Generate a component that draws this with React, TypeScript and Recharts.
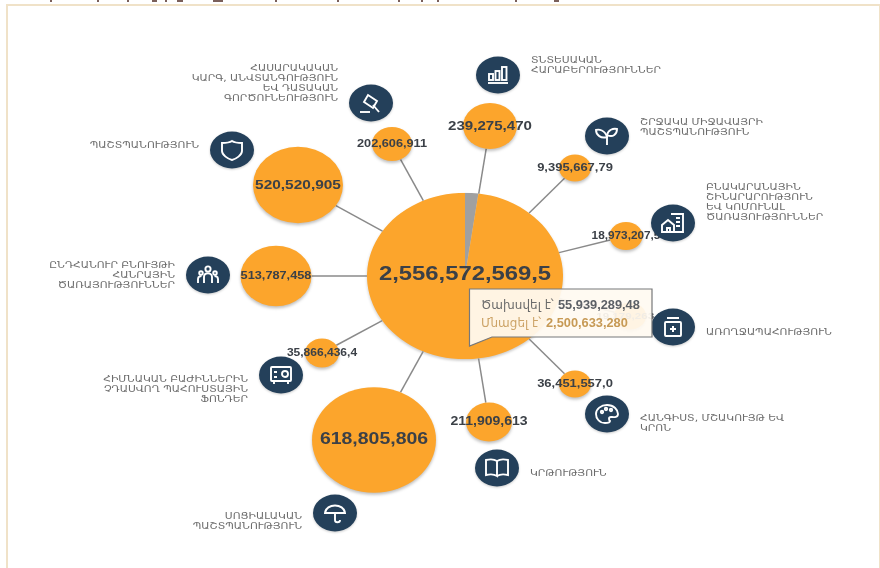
import React from 'react';
import { PieChart, Pie, Cell, ScatterChart, Scatter, XAxis, YAxis, ZAxis, ReferenceLine } from 'recharts';

// budget totals shown in the hub and the tooltip
const hubLabel = '2,556,572,569,5';
const spentLabel = '55,939,289,48';
const leftLabel = '2,500,633,280';
const hubSlices = [
  { name: 'Ծախսվել է՝', value: 55939289 },
  { name: 'Մնացել է՝', value: 2500633280 },
];
const SLICE_COLORS = ['#a0a0a0', '#fca52c'];

// bubbles round the hub (values are cut off in the source picture, so they stay strings)
const bubbleLabels = [
  '202,606,911', '239,275,470', '9,395,667,79', '18,973,207,5', '19,179,263,8', '36,451,557,0',
  '211,909,613', '618,805,806', '35,866,436,4', '513,787,458', '520,520,905',
];
const bubbleX = [392, 490, 575, 626, 630, 575, 489, 374, 322, 276, 298];
const bubbleY = [144, 126, 168, 236, 316, 384, 422, 440, 353, 276, 185];
const bubbleArea = [1257, 2290, 804, 855, 804, 804, 1662, 12076, 908, 3959, 6362];
const labelFontPx = [10.8, 12.8, 11, 10, 9.8, 11, 11.9, 16.5, 10.2, 10.8, 13.1];

// sectors, each with its icon
const iconNames = ['gavel', 'bars', 'sprout', 'house', 'jar', 'palette', 'book', 'umbrella', 'safe', 'people', 'shield'];
const sectorLines = [
  ['ՀԱՍԱՐԱԿԱԿԱՆ', 'ԿԱՐԳ, ԱՆՎՏԱՆԳՈՒԹՅՈՒՆ', 'ԵՎ ԴԱՏԱԿԱՆ', 'ԳՈՐԾՈՒՆԵՈՒԹՅՈՒՆ'],
  ['ՏՆՏԵՍԱԿԱՆ', 'ՀԱՐԱԲԵՐՈՒԹՅՈՒՆՆԵՐ'],
  ['ՇՐՋԱԿԱ ՄԻՋԱՎԱՅՐԻ', 'ՊԱՇՏՊԱՆՈՒԹՅՈՒՆ'],
  ['ԲՆԱԿԱՐԱՆԱՅԻՆ', 'ՇԻՆԱՐԱՐՈՒԹՅՈՒՆ', 'ԵՎ ԿՈՄՈՒՆԱԼ', 'ԾԱՌԱՅՈՒԹՅՈՒՆՆԵՐ'],
  ['ԱՌՈՂՋԱՊԱՀՈՒԹՅՈՒՆ'],
  ['ՀԱՆԳԻՍՏ, ՄՇԱԿՈՒՅԹ ԵՎ', 'ԿՐՈՆ'],
  ['ԿՐԹՈՒԹՅՈՒՆ'],
  ['ՍՈՑԻԱԼԱԿԱՆ', 'ՊԱՇՏՊԱՆՈՒԹՅՈՒՆ'],
  ['ՀԻՄՆԱԿԱՆ ԲԱԺԻՆՆԵՐԻՆ', 'ՉԴԱՍՎՈՂ ՊԱՀՈՒՍՏԱՅԻՆ', 'ՖՈՆԴԵՐ'],
  ['ԸՆԴՀԱՆՈՒՐ ԲՆՈՒՅԹԻ', 'ՀԱՆՐԱՅԻՆ', 'ԾԱՌԱՅՈՒԹՅՈՒՆՆԵՐ'],
  ['ՊԱՇՏՊԱՆՈՒԹՅՈՒՆ'],
];
const iconX = [371, 498, 607, 673, 673, 607, 497, 335, 281, 208, 232];
const iconY = [103, 75, 136, 223, 327, 414, 468, 513, 375, 275, 150];
const textSide = [-1, 1, 1, 1, 1, 1, 1, -1, -1, -1, -1];
const textShift = [-20, -10, -9, -21, 5, 9, 5, 8, 14, 0, -5];

// cut-off title at the very top of the screenshot: [left, width]
const titleStubs = [[50, 2], [97, 2], [127, 2], [152, 5], [165, 2], [177, 6], [213, 10], [275, 2], [337, 2], [398, 2], [421, 2], [437, 2], [515, 2], [554, 5]];

const WIDTH = 880;
const HEIGHT = 568;
const HUB_X = 465;
const HUB_Y = 276;
const HUB_RX = 98;
const SQUASH = 0.85; // source screenshot is stretched sideways

const bubbles = bubbleLabels.map((label, i) => ({ label, x: bubbleX[i], y: bubbleY[i], z: bubbleArea[i], font: labelFontPx[i] }));
const icons = iconNames.map((name, i) => ({ name, x: iconX[i], y: iconY[i], lines: sectorLines[i], side: textSide[i], shift: textShift[i] }));

// where the spoke towards (tx, ty) leaves an ellipse of radius rx centred at (cx, cy)
const edgePoint = (cx: number, cy: number, rx: number, tx: number, ty: number) => {
  const dx = tx - cx;
  const dy = ty - cy;
  const k = 1 / Math.sqrt((dx / rx) ** 2 + (dy / (rx * SQUASH)) ** 2);
  return { x: cx + dx * k, y: cy + dy * k };
};

const BubbleShape = (props: any) => {
  const { cx, cy, width, payload } = props;
  const rx = width / 2;
  return (
    <g>
      <ellipse cx={cx} cy={cy} rx={rx} ry={rx * SQUASH} fill="#fca52c" style={{ filter: 'drop-shadow(0 2px 1.5px rgba(0,0,0,0.25))' }} />
      <text
        transform={`translate(${cx} ${cy - 1}) scale(1.18 1)`}
        textAnchor="middle"
        dominantBaseline="central"
        fontFamily="'Liberation Sans', Arial, sans-serif"
        fontWeight="bold"
        fontSize={payload.font}
        fill="#3b4047"
      >
        {payload.label}
      </text>
    </g>
  );
};

const HubLabelShape = (props: any) => (
  <text
    transform={`translate(${props.cx} ${props.cy - 3}) scale(1.18 1)`}
    textAnchor="middle"
    dominantBaseline="central"
    fontFamily="'Liberation Sans', Arial, sans-serif"
    fontWeight="bold"
    fontSize={20.2}
    fill="#3b4047"
  >
    {hubLabel}
  </text>
);

const glyphs: Record<string, React.ReactNode> = {
  gavel: (
    <>
      <path d="M-4 -9 L5 -3 L1 4 L-8 -2 Z" transform="translate(1 1)" />
      <path d="M2 2 L8 9" />
      <path d="M-11 9 H-1" />
    </>
  ),
  bars: (
    <>
      <rect x="-9" y="-1" width="4" height="6" />
      <rect x="-2.5" y="-4" width="4" height="9" />
      <rect x="4" y="-8" width="4.5" height="13" />
      <path d="M-10 8 H10" />
    </>
  ),
  sprout: (
    <>
      <path d="M0 9 V0" />
      <path d="M0 1 C-2 -6 -8 -7 -11 -6 C-11 -1 -6 3 0 1 Z" />
      <path d="M0 -1 C1 -6 6 -8 10 -7 C10 -2 6 2 0 -1 Z" />
    </>
  ),
  house: (
    <>
      <path d="M-2 -9 H10 V9 H-2" />
      <path d="M-11 9 V2 L-5 -3 L1 2 V9 Z" />
      <path d="M3 -5 H7 M3 -1 H7 M3 3 H7 M-6 9 V5 H-3 V9" />
    </>
  ),
  jar: (
    <>
      <path d="M-6 -9 H6 M-5 -5 H5" />
      <rect x="-8" y="-5" width="16" height="14" rx="1" />
      <path d="M-3 2 H3 M0 -1 V5" strokeWidth="2" />
    </>
  ),
  palette: (
    <>
      <path d="M0 -9 C7 -9 11 -4 11 0 C11 4 6 3 4 3 C1 3 2 6 3 7 C3 9 0 9 -2 9 C-8 9 -11 4 -11 0 C-11 -5 -6 -9 0 -9 Z" />
      <circle cx="-5" cy="-2" r="1.2" />
      <circle cx="-1" cy="-5" r="1.2" />
      <circle cx="4" cy="-4" r="1.2" />
    </>
  ),
  book: (
    <>
      <path d="M0 -7 C-3 -9 -7 -9 -11 -8 V7 C-7 6 -3 6 0 8 Z" />
      <path d="M0 -7 C3 -9 7 -9 11 -8 V7 C7 6 3 6 0 8" />
    </>
  ),
  umbrella: (
    <>
      <path d="M-10 0 C-9 -10 9 -10 10 0 Z" />
      <path d="M0 0 V7 C0 10 5 10 5 7" />
    </>
  ),
  safe: (
    <>
      <rect x="-10" y="-8" width="20" height="14" rx="1" />
      <circle cx="4" cy="-1" r="3" />
      <path d="M-7 -3 H-4 M-7 2 H-4 M-7 6 V9 M7 6 V9" />
    </>
  ),
  people: (
    <>
      <circle cx="0" cy="-6" r="2.6" />
      <circle cx="-7" cy="-2" r="1.8" />
      <circle cx="7" cy="-2" r="1.8" />
      <path d="M-4 8 V2 C-4 -3 4 -3 4 2 V8" />
      <path d="M-10 8 V4 C-10 1 -7 1 -6.5 1 M10 8 V4 C10 1 7 1 6.5 1" />
    </>
  ),
  shield: <path d="M0 -9 C3 -7 7 -7 10 -7 V1 C10 5 4 9 0 10 C-4 9 -10 5 -10 1 V-7 C-7 -7 -3 -7 0 -9 Z" />,
};

const IconShape = (props: any) => {
  const { cx, cy, payload } = props;
  const firstLine = payload.shift - ((payload.lines.length - 1) * 10.3) / 2;
  return (
    <g>
      <ellipse cx={cx} cy={cy} rx={22} ry={18.5} fill="#24405a" style={{ filter: 'drop-shadow(0 1px 1px rgba(0,0,0,0.2))' }} />
      <g transform={`translate(${cx} ${cy})`} fill="none" stroke="#fff" strokeWidth={1.9}>
        {glyphs[payload.name]}
      </g>
      <text
        transform={`translate(${cx + payload.side * 33} ${cy}) scale(1.25 1)`}
        textAnchor={payload.side < 0 ? 'end' : 'start'}
        fontFamily="'DejaVu Sans', sans-serif"
        fontSize={8.6}
        fill="#6c6c6c"
      >
        {payload.lines.map((line: string, i: number) => (
          <tspan key={line} x={0} y={firstLine + i * 10.3 + 3}>
            {line}
          </tspan>
        ))}
      </text>
    </g>
  );
};

const layer: React.CSSProperties = { position: 'absolute', left: 0, top: 0 };

export default function App() {
  return (
    <div style={{ ...layer, width: WIDTH, height: HEIGHT, overflow: 'hidden', background: '#fff', filter: 'blur(0.5px)' }}>
      {titleStubs.map(([left, w]) => (
        <div key={left} style={{ position: 'absolute', left, top: 0, width: w, height: 2, background: '#7a5f5a' }} />
      ))}
      <div style={{ position: 'absolute', left: 6, top: 4, width: 871, height: 620, border: '2px solid #f0e2c8' }} />

      <div
        style={{
          position: 'absolute',
          left: HUB_X - HUB_RX,
          top: HUB_Y - HUB_RX,
          transform: `scaleY(${SQUASH})`,
          filter: 'drop-shadow(0 2px 1.5px rgba(0,0,0,0.2))',
        }}
      >
        <PieChart width={HUB_RX * 2} height={HUB_RX * 2} margin={{ top: 0, right: 0, bottom: 0, left: 0 }}>
          <Pie
            data={hubSlices}
            dataKey="value"
            nameKey="name"
            cx={HUB_RX}
            cy={HUB_RX}
            innerRadius={0}
            outerRadius={HUB_RX}
            startAngle={90}
            endAngle={-270}
            stroke="none"
            isAnimationActive={false}
          >
            {hubSlices.map((s, i) => (
              <Cell key={s.name} fill={SLICE_COLORS[i]} />
            ))}
          </Pie>
        </PieChart>
      </div>

      <div style={layer}>
        <ScatterChart width={WIDTH} height={HEIGHT} margin={{ top: 0, right: 0, bottom: 0, left: 0 }}>
          <XAxis type="number" dataKey="x" domain={[0, WIDTH]} hide />
          <YAxis type="number" dataKey="y" domain={[0, HEIGHT]} reversed hide />
          <ZAxis type="number" dataKey="z" domain={[0, 13000]} range={[0, 13000]} />
          {bubbles.map((b) => {
            const rx = Math.sqrt(b.z / Math.PI);
            return (
              <ReferenceLine
                key={b.label}
                segment={[edgePoint(HUB_X, HUB_Y, HUB_RX, b.x, b.y), edgePoint(b.x, b.y, rx, HUB_X, HUB_Y)]}
                stroke="#8a8a8a"
                strokeWidth={1.5}
              />
            );
          })}
          <Scatter data={bubbles} shape={BubbleShape} isAnimationActive={false} />
          <Scatter data={[{ x: HUB_X, y: HUB_Y, z: 0 }]} shape={HubLabelShape} isAnimationActive={false} />
          <Scatter data={icons} shape={IconShape} isAnimationActive={false} />
        </ScatterChart>
      </div>

      {/* pinned tooltip of the hub */}
      <svg style={{ ...layer, pointerEvents: 'none' }} width={WIDTH} height={HEIGHT} fontFamily="'DejaVu Sans', sans-serif">
        <path d="M469.5 289 H652 V337 H492 L469.5 346 Z" fill="rgba(255,250,241,0.93)" stroke="#77787a" strokeWidth={1.2} />
        <text x={481} y={309} fontSize={12} fill="#6b6b6b">{hubSlices[0].name}</text>
        <text x={558} y={309} fontSize={12.8} fontWeight="bold" fontFamily="'Liberation Sans', sans-serif" fill="#5c6066">{spentLabel}</text>
        <text x={481} y={327} fontSize={12} fill="#cda468">{hubSlices[1].name}</text>
        <text x={546} y={327} fontSize={12.8} fontWeight="bold" fontFamily="'Liberation Sans', sans-serif" fill="#c79a55">{leftLabel}</text>
      </svg>
    </div>
  );
}
